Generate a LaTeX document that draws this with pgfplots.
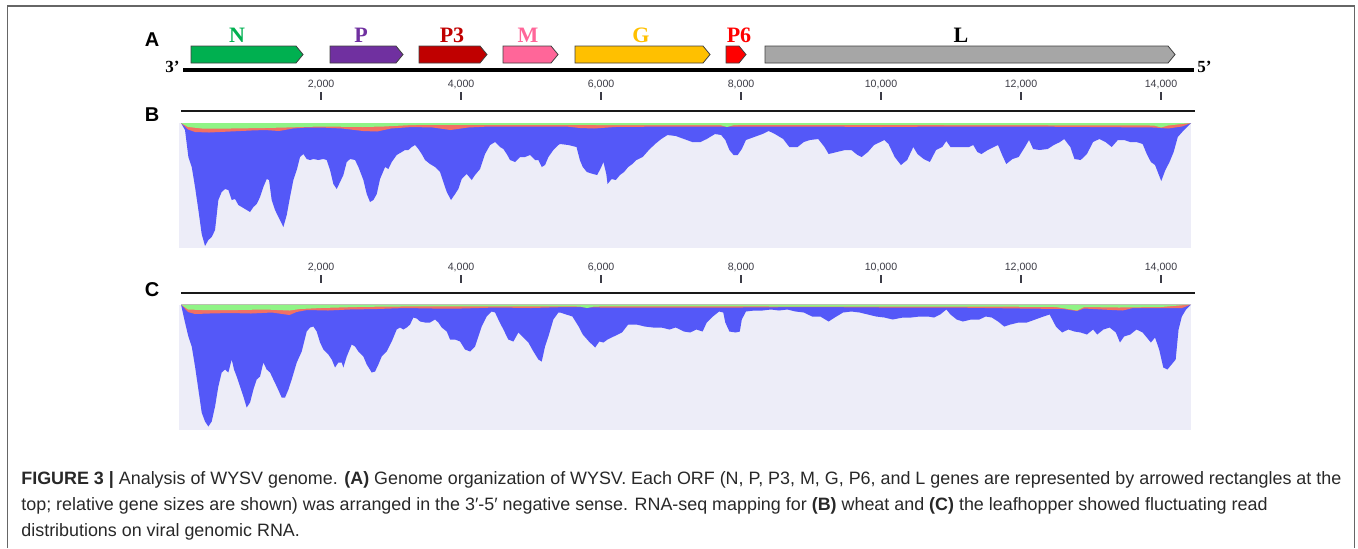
\documentclass[border=0pt]{standalone}
\usepackage{pgfplots}
\pgfplotsset{compat=1.18}
\usepackage{pgfplotstable}
\usepackage{fontspec}
\setmainfont{Liberation Sans}
\newfontfamily\gserif{Liberation Serif}

\definecolor{covblue}{RGB}{84,88,248}
\definecolor{covred}{RGB}{242,112,100}
\definecolor{covgreen}{RGB}{144,244,134}
\definecolor{bgc}{RGB}{237,237,248}
\definecolor{gN}{RGB}{0,176,80}
\definecolor{gP}{RGB}{112,48,160}
\definecolor{gP3}{RGB}{192,0,0}
\definecolor{gM}{RGB}{255,102,153}
\definecolor{gG}{RGB}{255,192,0}
\definecolor{gP6}{RGB}{255,0,0}
\definecolor{gL}{RGB}{166,166,166}
\definecolor{outl}{RGB}{64,64,64}
\definecolor{tickc}{RGB}{60,60,70}
\definecolor{capc}{RGB}{40,40,40}

% ---------- panel B coverage (position nt, depth px from top) ----------
\pgfplotstableread{
x y
0 0
57 7
105 34
153 44
200 64
248 87
295 111
343 123
391 117
438 114
486 107
533 77
581 69
629 66
676 67
724 77
772 76
819 82
867 84
938 87
986 89
1034 84
1081 81
1129 74
1176 64
1224 56
1257 57
1295 77
1343 87
1391 94
1462 104
1510 92
1557 74
1605 57
1653 47
1700 34
1748 31
1795 36
1843 37
1891 36
1962 37
2034 36
2081 37
2129 47
2176 61
2224 66
2272 59
2319 52
2367 39
2415 36
2486 37
2534 44
2605 57
2653 71
2700 79
2748 77
2796 71
2843 56
2915 44
2962 46
3010 39
3081 32
3153 29
3200 27
3248 27
3296 24
3343 22
3391 26
3438 31
3486 37
3557 41
3629 44
3700 49
3748 59
3796 69
3857 77
3915 71
3962 66
4010 56
4081 51
4153 57
4200 52
4272 46
4343 31
4415 22
4486 19
4557 24
4605 26
4653 31
4700 37
4772 39
4843 34
4915 34
4986 32
5057 37
5105 37
5153 44
5200 42
5248 34
5319 27
5391 22
5414 21
5532 22
5650 24
5697 37
5739 44
5798 49
5886 51
5945 52
6004 44
6034 39
6075 51
6093 61
6152 56
6211 57
6270 52
6329 49
6388 44
6447 41
6506 37
6595 34
6683 27
6772 21
6860 16
6949 12
7067 13
7185 16
7303 19
7421 19
7510 16
7628 11
7716 12
7775 17
7834 27
7893 32
7952 32
8011 26
8070 17
8188 14
8306 11
8395 8
8484 11
8602 16
8690 24
8808 24
8897 19
8985 17
9103 16
9192 24
9251 31
9369 29
9487 27
9576 27
9664 32
9723 34
9812 29
9900 22
9989 19
10048 17
10107 21
10195 34
10284 42
10373 37
10461 24
10520 31
10609 36
10697 39
10786 27
10874 24
10933 18
10992 24
11081 24
11169 24
11258 24
11317 22
11376 29
11435 31
11524 27
11612 24
11671 22
11730 32
11789 41
11878 36
11966 34
12055 24
12114 17
12173 26
12262 27
12380 26
12468 22
12557 19
12616 16
12704 24
12763 36
12852 37
12941 31
13029 19
13118 16
13206 19
13295 24
13383 17
13472 17
13560 19
13649 19
13737 21
13796 31
13855 39
13914 42
14003 58
14062 47
14121 39
14180 29
14239 14
14328 7
14416 1
14428 0
}\Bblue

\pgfplotstableread{
x y
0 0
100 6.5
200 9
400 9.5
700 8.5
1000 7.5
1200 7
1400 8
1600 5.5
1800 4.5
2000 4.5
2300 5.5
2600 8
2800 8.5
3000 5.5
3300 4
3600 4.5
3850 7
4100 4.5
4400 3.5
5000 3.5
5500 3.5
5700 5
5900 5.5
6200 4
7000 3.5
8000 3.5
9000 3.5
10000 4
11000 3.5
12000 3.5
13000 4
13900 4.5
14100 5.5
14300 3.5
14428 0
}\Bred

\pgfplotstableread{
x y
0 0
100 4
300 5.5
700 5.5
1200 5
1500 4.5
2000 3.5
2600 4
2900 3.5
3300 2
4500 1.8
6000 2
7700 2
7800 4
7900 2
9000 1.8
11000 2
13900 2.5
14000 4.5
14100 2.5
14428 0
}\Bgreen

% ---------- panel C coverage ----------
\pgfplotstableread{
x y
0 0
57 18
105 32
153 42
200 62
248 85
295 108
343 117
391 122
438 117
486 102
533 82
581 68
629 65
676 68
724 55
757 65
795 72
843 82
891 92
938 103
986 98
1034 85
1081 75
1129 72
1176 58
1224 65
1272 68
1319 75
1367 82
1438 93
1486 93
1534 85
1581 75
1653 58
1724 47
1795 27
1843 23
1891 22
1938 27
1986 38
2034 45
2105 50
2153 55
2200 63
2248 58
2295 58
2319 63
2367 52
2438 40
2486 42
2534 47
2605 52
2653 60
2724 68
2772 67
2819 60
2867 52
2938 47
3010 37
3081 25
3129 23
3176 25
3224 23
3272 20
3319 13
3367 14
3415 17
3486 18
3557 18
3629 15
3676 18
3724 23
3796 27
3843 35
3915 35
3986 37
4057 45
4129 47
4200 42
4248 32
4295 22
4367 12
4438 7
4486 8
4533 15
4605 25
4676 35
4748 37
4819 28
4891 33
4962 38
5034 47
5105 55
5153 57
5200 42
5248 32
5319 15
5391 8
5414 8
5503 10
5591 12
5680 22
5739 30
5827 37
5916 43
5975 37
6034 38
6093 35
6181 32
6299 28
6388 20
6506 20
6624 22
6742 23
6860 23
6978 25
7067 23
7185 27
7273 28
7362 25
7451 27
7510 18
7598 12
7687 7
7746 8
7775 18
7834 27
7923 28
7982 27
8011 15
8070 7
8188 6
8306 6
8425 5
8543 6
8661 5
8779 7
8897 8
9015 12
9133 12
9251 17
9339 13
9458 8
9576 7
9694 8
9812 10
9930 12
10048 13
10166 15
10314 13
10432 13
10550 12
10668 12
10756 13
10845 10
10933 5
10992 10
11081 15
11169 17
11287 15
11405 15
11494 12
11582 13
11671 17
11760 22
11848 20
11966 18
12084 18
12203 15
12321 12
12409 10
12498 22
12586 28
12675 25
12763 27
12852 28
12941 30
13029 25
13088 30
13177 25
13265 23
13354 28
13413 38
13472 32
13560 30
13649 25
13737 28
13796 33
13855 38
13914 33
13973 45
14032 63
14091 65
14150 60
14209 55
14250 25
14297 12
14357 5
14428 0
}\Cblue

\pgfplotstableread{
x y
0 0
100 7.5
200 9.5
400 9
700 8.5
1000 9
1300 8
1550 10.5
1650 7.5
1800 5.5
2100 6
2400 5
2800 4.5
3200 3.5
3600 4
4000 4
4500 3
5000 3.5
5500 2.5
6000 3
7000 3
8000 3
9000 2.5
10000 3
11000 3
12000 4
12600 4.5
12800 6.5
12900 4
13300 5.5
13450 6
13600 3.5
14000 3.5
14300 3.5
14428 0
}\Cred

\pgfplotstableread{
x y
0 0
100 5
300 5.5
800 5.5
1200 5
1550 6
1700 4.5
2000 3.5
2500 2.5
3000 2
5000 1.8
5700 2
5800 3.5
5900 2
7000 1.8
8500 2
11500 2
12500 2.5
12800 6
12900 2.5
13400 3
14000 2.5
14428 0
}\Cgreen

\pgfplotsset{
  panel/.style={scale only axis, width=506pt, xmin=-29, xmax=14428,
    y dir=reverse, hide axis, clip=false, anchor=north west},
  cov/.style={panel, height=62.5pt, ymin=0, ymax=125},
}

\newcommand{\ticklab}[3]{\node[font=\fontsize{5.3}{6}\selectfont, text=tickc] at (#1,#3) {#2};}

\begin{document}
\begin{tikzpicture}
\begin{scope}[x=0.5pt,y=-0.5pt]
  \path[use as bounding box] (0,0) rectangle (1358,548);
  \draw[black!60, line width=0.8pt] (7.5,548) -- (7.5,6) -- (1354.5,6) -- (1354.5,548);
  \node[font=\fontsize{10}{12}\selectfont\bfseries] at (152,40) {A};
  \node[font=\fontsize{10}{12}\selectfont\bfseries] at (152,115) {B};
  \node[font=\fontsize{10}{12}\selectfont\bfseries] at (152,290) {C};
  \begin{scope}[every node/.style={anchor=base west, inner sep=0pt, text=capc, font=\fontsize{8.95}{13}\selectfont}]
    \node at (21,484) {\textbf{FIGURE 3 |} Analysis of WYSV genome. \textbf{(A)} Genome organization of WYSV. Each ORF (N, P, P3, M, G, P6, and L genes are represented by arrowed rectangles at the};
    \node at (21,510) {top; relative gene sizes are shown) was arranged in the 3′-5′ negative sense. RNA-seq mapping for \textbf{(B)} wheat and \textbf{(C)} the leafhopper showed fluctuating read};
    \node at (21,536) {distributions on viral genomic RNA.};
  \end{scope}
\end{scope}

% ---------------- panel A: genome map ----------------
\begin{axis}[panel, at={(89.5pt,-10pt)}, height=42.5pt, ymin=20, ymax=105]
  \draw[black, line width=1.7pt] (29,70) -- (14471,70);
  \node[anchor=east, inner sep=0.5pt, font=\gserif\bfseries\fontsize{8.5}{10}\selectfont] at (0,67) {3’};
  \node[anchor=west, inner sep=0.5pt, font=\gserif\bfseries\fontsize{8.5}{10}\selectfont] at (14500,67) {5’};
  % genes
  \filldraw[fill=gN, draw=outl, line width=0.4pt] (143,46) -- (1643,46) -- (1743,54.5) -- (1643,63) -- (143,63) -- cycle;
  \filldraw[fill=gP, draw=outl, line width=0.4pt] (2129,46) -- (3071,46) -- (3171,54.5) -- (3071,63) -- (2129,63) -- cycle;
  \filldraw[fill=gP3, draw=outl, line width=0.4pt] (3400,46) -- (4271,46) -- (4371,54.5) -- (4271,63) -- (3400,63) -- cycle;
  \filldraw[fill=gM, draw=outl, line width=0.4pt] (4600,46) -- (5286,46) -- (5386,54.5) -- (5286,63) -- (4600,63) -- cycle;
  \filldraw[fill=gG, draw=outl, line width=0.4pt] (5629,46) -- (7457,46) -- (7557,54.5) -- (7457,63) -- (5629,63) -- cycle;
  \filldraw[fill=gP6, draw=outl, line width=0.4pt] (7786,46) -- (7971,46) -- (8071,54.5) -- (7971,63) -- (7786,63) -- cycle;
  \filldraw[fill=gL, draw=outl, line width=0.4pt] (8343,46) -- (14100,46) -- (14200,54.5) -- (14100,63) -- (8343,63) -- cycle;
  \begin{scope}[every node/.style={font=\gserif\bfseries\fontsize{11}{13}\selectfont}]
    \node[text=gN] at (800,35) {N};
    \node[text=gP] at (2571,35) {P};
    \node[text=gP3] at (3871,35) {P3};
    \node[text=gM] at (4957,35) {M};
    \node[text=gG] at (6571,35) {G};
    \node[text=gP6] at (7971,35) {P6};
    \node[text=black] at (11143,35) {L};
  \end{scope}
  % scale
  \ticklab{2000}{2,000}{84}\ticklab{4000}{4,000}{84}\ticklab{6000}{6,000}{84}\ticklab{8000}{8,000}{84}
  \ticklab{10000}{10,000}{84}\ticklab{12000}{12,000}{84}\ticklab{14000}{14,000}{84}
  \pgfplotsinvokeforeach{2000,4000,6000,8000,10000,12000,14000}{\draw[tickc, line width=0.8pt] (#1,92) -- (#1,100);}
\end{axis}

% ---------------- panel B ----------------
\begin{axis}[cov, at={(89.5pt,-61.5pt)}]
  \fill[bgc] (rel axis cs:0,0) rectangle (rel axis cs:1,1);
  \addplot[draw=none, fill=covblue] table {\Bblue} \closedcycle;
  \addplot[draw=none, fill=covred] table {\Bred} \closedcycle;
  \addplot[draw=none, fill=covgreen] table {\Bgreen} \closedcycle;
  \draw[black!90, line width=1.2pt] (0,-12) -- (14486,-12);
\end{axis}

% ---------------- panel C ----------------
\begin{axis}[cov, at={(89.5pt,-152.25pt)}]
  \fill[bgc] (rel axis cs:0,0) rectangle (rel axis cs:1,1);
  \addplot[draw=none, fill=covblue] table {\Cblue} \closedcycle;
  \addplot[draw=none, fill=covred] table {\Cred} \closedcycle;
  \addplot[draw=none, fill=covgreen] table {\Cgreen} \closedcycle;
  \draw[black!90, line width=1.2pt] (0,-11.5) -- (14486,-11.5);
  \ticklab{2000}{2,000}{-37.5}\ticklab{4000}{4,000}{-37.5}\ticklab{6000}{6,000}{-37.5}\ticklab{8000}{8,000}{-37.5}
  \ticklab{10000}{10,000}{-37.5}\ticklab{12000}{12,000}{-37.5}\ticklab{14000}{14,000}{-37.5}
  \pgfplotsinvokeforeach{2000,4000,6000,8000,10000,12000,14000}{\draw[tickc, line width=0.8pt] (#1,-29.5) -- (#1,-21.5);}
\end{axis}

\pgfresetboundingbox
\path (0,0) rectangle (679pt,-274pt);
\end{tikzpicture}
\end{document}
